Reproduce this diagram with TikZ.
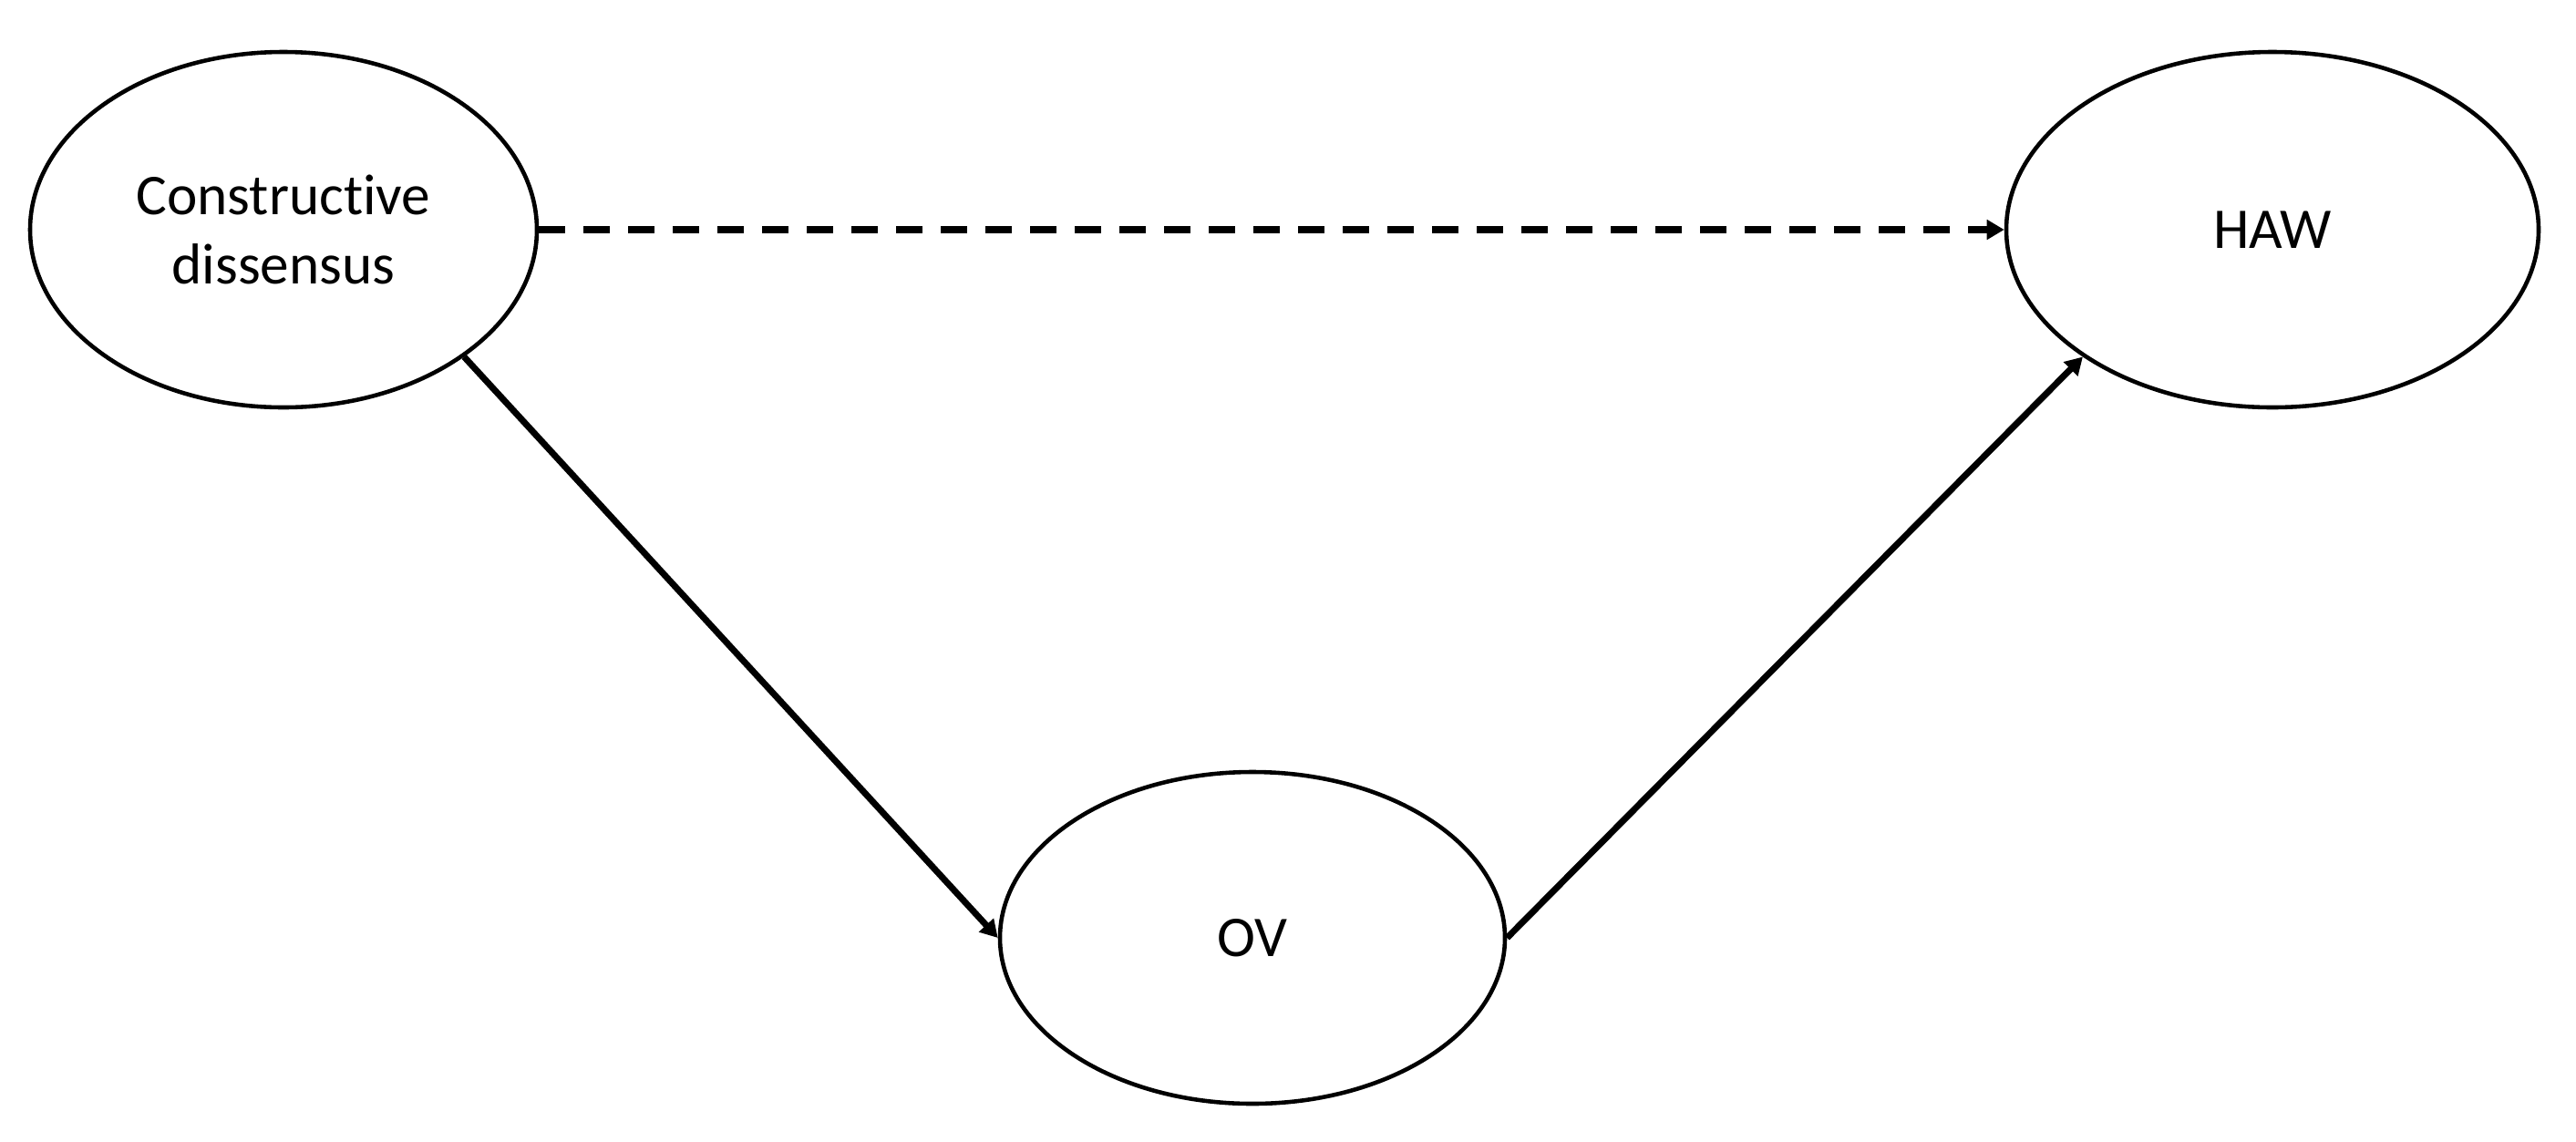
\documentclass[tikz,border=0pt]{standalone}
\usepackage{fontspec}
\setmainfont[Ligatures=NoCommon]{Carlito}
\usetikzlibrary{arrows.meta,shapes.geometric}
\tikzset{
  var/.style={draw=black, line width=1.3pt, ellipse, inner sep=0pt, align=center,
    font=\fontsize{18}{21.5}\selectfont},
  conn/.style={line width=2pt, -{Triangle[length=0.19cm,width=0.21cm]}},
  dconn/.style={conn, dash pattern=on 0.29cm off 0.20cm}
}
\begin{document}
\begin{tikzpicture}
\useasboundingbox (0,0) rectangle (28.26,-12.52);
\node[var, minimum width=5.56cm, minimum height=3.90cm] (cd) at (3.11,-2.52) {Constructive\\dissensus};
\node[var, minimum width=5.84cm, minimum height=3.90cm] (haw) at (24.93,-2.52) {HAW};
\node[var, minimum width=5.54cm, minimum height=3.64cm] (ov) at (13.74,-10.29) {OV};
\draw[dconn] (cd.east) -- (haw.west);
\draw[conn] (cd.south east) -- (ov.west);
\draw[conn] (ov.east) -- (haw.south west);
\end{tikzpicture}
\end{document}
